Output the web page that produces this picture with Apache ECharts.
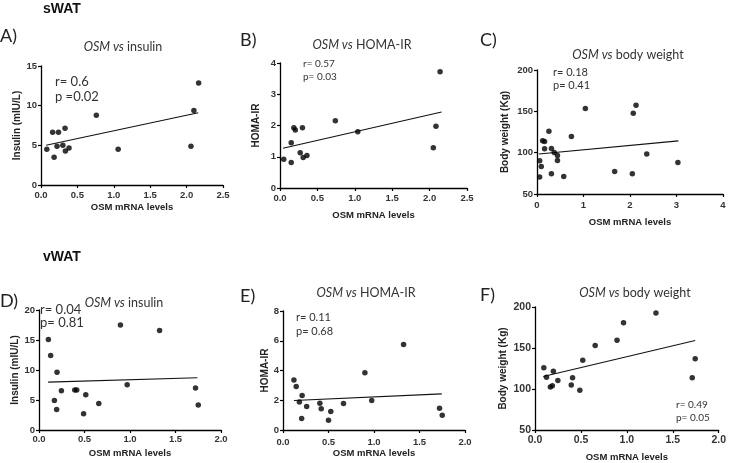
<!DOCTYPE html>
<html><head><meta charset="utf-8">
<script src="https://cdn.jsdelivr.net/npm/echarts@6/dist/echarts.min.js"></script>
<style>html,body{margin:0;padding:0;background:#fff}#c{width:729px;height:463px}</style>
</head><body><div id="c"></div>
<script>
// ---- data ----
const aX = [0.08,0.16,0.18,0.22,0.24,0.30,0.33,0.335,0.385,0.76,1.06,2.06,2.10,2.165];
const aY = [4.5,6.66,3.5,4.9,6.66,5.0,7.16,4.27,4.65,8.8,4.5,4.9,9.4,12.86];
const aFit = [[0.07,5.0],[2.16,9.1]];

const bX = [0.05,0.15,0.15,0.185,0.205,0.27,0.30,0.31,0.36,0.74,1.04,2.05,2.085,2.14];
const bY = [0.92,0.82,1.45,1.93,1.86,1.13,1.93,0.98,1.04,2.15,1.80,1.29,1.98,3.72];
const bFit = [[0.04,1.27],[2.16,2.43]];

const cX = [0.057,0.057,0.092,0.12,0.163,0.163,0.256,0.31,0.31,0.37,0.44,0.44,0.575,0.74,1.04,1.67,2.05,2.07,2.13,2.36,3.03];
const cY = [90.2,70.5,83.4,114.3,113.5,104.7,126,105,74.5,100.3,96.6,90.6,71.3,119.6,153.3,77.3,74.5,147.7,157.4,98.3,88.2];
const cFit = [[0.04,98.3],[3.04,114.3]];

const dX = [0.103,0.128,0.169,0.198,0.194,0.246,0.393,0.415,0.49,0.514,0.657,0.895,0.969,1.325,1.72,1.75];
const dY = [15.1,12.4,4.9,9.64,3.43,6.54,6.65,6.65,2.71,5.87,4.43,17.5,7.53,16.6,6.98,4.16];
const dFit = [[0.10,7.98],[1.74,8.70]];

const eX = [0.12,0.145,0.18,0.21,0.205,0.26,0.405,0.42,0.50,0.525,0.665,0.90,0.975,1.325,1.72,1.75];
const eY = [3.36,2.92,1.89,2.32,0.78,1.58,1.80,1.43,0.65,1.25,1.78,3.85,1.98,5.75,1.47,1.00];
const eFit = [[0.12,1.98],[1.745,2.43]];

const fX = [0.096,0.125,0.167,0.189,0.2,0.249,0.395,0.409,0.488,0.52,0.655,0.893,0.964,1.317,1.712,1.744];
const fY = [126,114.4,102.4,104,121.6,110.4,104.8,113.6,98.4,135.2,153.2,159.6,180.8,192.8,113.6,136.8];
const fFit = [[0.09,115.2],[1.744,159.2]];

const panelLetters = ['A)','B)','C)','D)','E)','F)'];
const panelTitles = ['insulin','HOMA-IR','body weight','insulin','HOMA-IR','body weight'];
const yNames = ['Insulin (mIU/L)','HOMA-IR','Body weight (Kg)','Insulin (mIU/L)','HOMA-IR','Body weight (Kg)'];
const xName = 'OSM mRNA levels';
const rTexts = ['r= 0.6','r= 0.57','r= 0.18','r= 0.04','r= 0.11','r= 0.49'];
const pTexts = ['p =0.02','p= 0.03','p= 0.41','p= 0.81','p= 0.68','p= 0.05'];
const groupLabels = ['sWAT','vWAT'];
const xAxesRange = [[0,2.5,0.5],[0,2.5,0.5],[0,4,1],[0,2,0.5],[0,2,0.5],[0,2,0.5]];
const yAxesRange = [[0,15,5],[0,4,1],[50,200,50],[0,20,5],[0,8,2],[50,200,50]];

// ---- layout ----
const grids = [
  {left:41, top:66, width:182, height:119},
  {left:280, top:63, width:187, height:125},
  {left:537, top:70, width:186, height:124},
  {left:39, top:310, width:182, height:120},
  {left:283, top:311, width:182, height:119},
  {left:535, top:307, width:187, height:125}
];
const yNameGap = [19,19,27,19,10,27];
const xNameGap = [17,22,23,18,18,22];
const xLabelMargin = [5,5,6,4.5,7.5,5];
const tickFont = [9.5,9.5,9.5,9.5,9.5,10.5];
const letterPos = [[0,36],[240,40],[480,40],[0,301],[240,296],[480,295]];
const titlePos = [[123,47],[362,45],[628,55],[124,303],[366,293],[635,293]];
const rpPos = [[55,82,96.7,13],[303,64,77,10],[553,72,85,11],[40,310,323.3,13],[296,317,331,11],[676,405,418,10]];

const xs = [aX,bX,cX,dX,eX,fX], ys = [aY,bY,cY,dY,eY,fY], fits = [aFit,bFit,cFit,dFit,eFit,fFit];
const fam = '"Liberation Sans", Arial, sans-serif';
const axisCommon = {
  axisLine:{show:true,onZero:false,lineStyle:{color:'#000',width:1.3}},
  axisTick:{show:true,length:3,lineStyle:{color:'#000',width:1.2}},
  splitLine:{show:false}
};
const xAxis = [], yAxis = [], series = [];
for (let i=0;i<6;i++){
  const xr = xAxesRange[i], yr = yAxesRange[i];
  xAxis.push(Object.assign({type:'value', gridIndex:i, min:xr[0], max:xr[1], interval:xr[2],
    name:xName, nameLocation:'middle', nameGap:xNameGap[i],
    nameTextStyle:{fontFamily:fam,fontWeight:'bold',fontSize:9.5,color:'#222'},
    axisLabel:{margin:xLabelMargin[i],fontFamily:fam,fontWeight:'bold',fontSize:tickFont[i],color:'#333',
      formatter:v=> xr[2]<1 ? v.toFixed(1) : String(v)}}, axisCommon));
  yAxis.push(Object.assign({type:'value', gridIndex:i, min:yr[0], max:yr[1], interval:yr[2],
    name:yNames[i], nameLocation:'middle', nameGap:yNameGap[i], nameRotate:90,
    nameTextStyle:{fontFamily:fam,fontWeight:'bold',fontSize:10,color:'#222'},
    axisLabel:{margin:4,fontFamily:fam,fontWeight:'bold',fontSize:tickFont[i],color:'#333'}}, axisCommon));
  series.push({type:'scatter', xAxisIndex:i, yAxisIndex:i, symbol:'circle', symbolSize:5.5,
    itemStyle:{color:'#000'}, data: xs[i].map((x,k)=>[x,ys[i][k]]), silent:true});
  series.push({type:'line', xAxisIndex:i, yAxisIndex:i, symbol:'none', lineStyle:{color:'#111',width:1.1},
    data: fits[i], silent:true, z:1});
}
const graphic = [];
graphic.push({type:'text', x:43, y:9, style:{text:groupLabels[0], font:'bold 14px '+fam, fill:'#111', verticalAlign:'middle'}});
graphic.push({type:'text', x:43, y:257, style:{text:groupLabels[1], font:'bold 14px '+fam, fill:'#111', verticalAlign:'middle'}});
for (let i=0;i<6;i++){
  graphic.push({type:'text', x:letterPos[i][0], y:letterPos[i][1],
    style:{text:panelLetters[i], font:'18px Lato, sans-serif', fill:'#222', verticalAlign:'middle'}});
  graphic.push({type:'text', x:titlePos[i][0], y:titlePos[i][1],
    style:{text:'{i|OSM vs} {n|'+panelTitles[i]+'}', fontSize:12.5, fontFamily:'Lato, sans-serif', fill:'#333', align:'center', verticalAlign:'middle',
      rich:{i:{fontStyle:'italic', fontSize:12.5, fontFamily:'Lato, sans-serif', fill:'#333'},
            n:{fontStyle:'normal', fontSize:12.5, fontFamily:'Lato, sans-serif', fill:'#333'}}}});
  const rp = rpPos[i];
  graphic.push({type:'text', x:rp[0], y:rp[1], style:{text:rTexts[i], font:rp[3]+'px Lato, sans-serif', fill:'#333', verticalAlign:'middle'}});
  graphic.push({type:'text', x:rp[0], y:rp[2], style:{text:pTexts[i], font:rp[3]+'px Lato, sans-serif', fill:'#333', verticalAlign:'middle'}});
}
const chart = echarts.init(document.getElementById('c'), null, {renderer:'canvas'});
chart.setOption({animation:false, backgroundColor:'#fff', grid:grids, xAxis, yAxis, series, graphic});
</script></body></html>
